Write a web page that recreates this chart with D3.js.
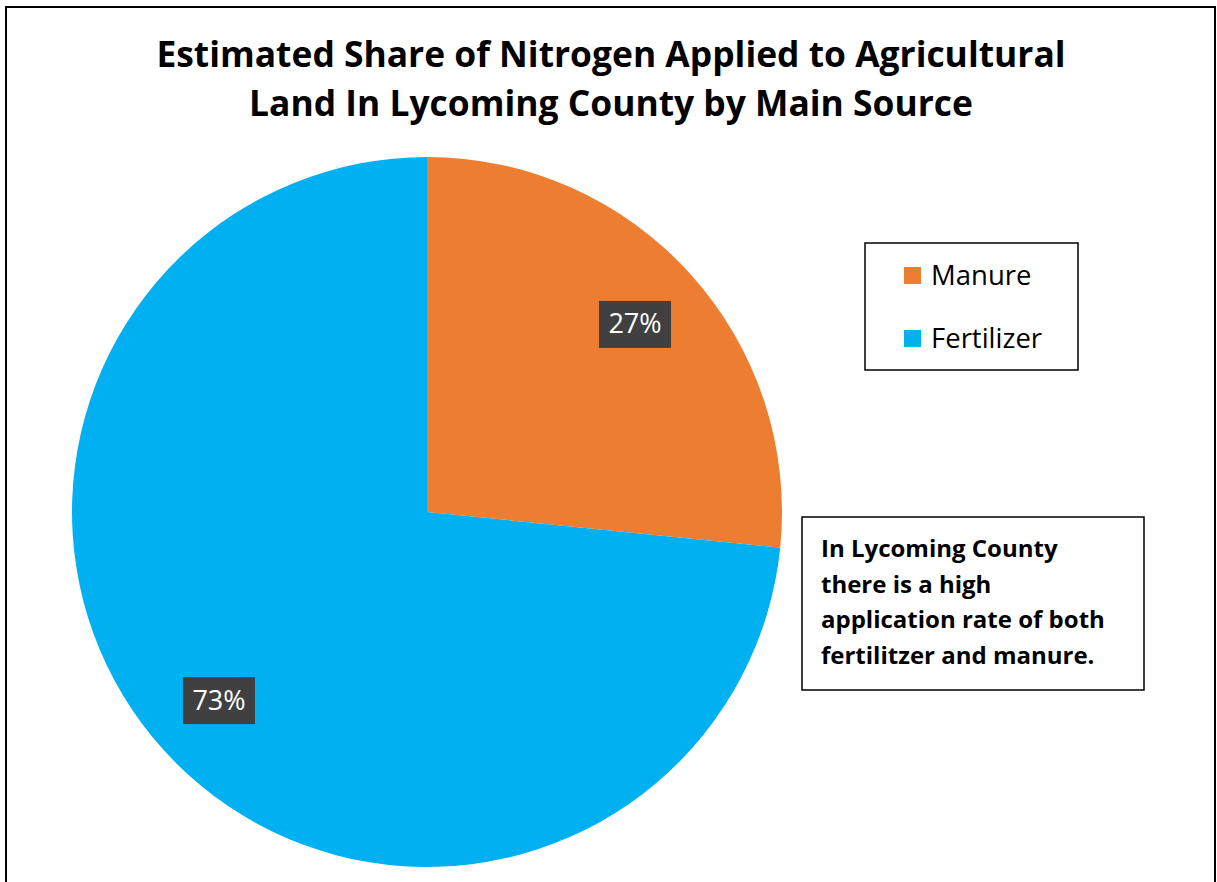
<!DOCTYPE html>
<meta charset="utf-8">
<style>
  body { margin: 0; background: #fff; }
  svg text { font-family: "Open Sans", sans-serif; }
  .title { font-size: 35.4px; font-weight: bold; fill: #000; }
  .legend-text { font-size: 27.5px; fill: #000; }
  .pct { font-size: 27px; fill: #fff; }
  .note { font-size: 24px; font-weight: bold; fill: #000; }
</style>
<svg width="1217" height="882"></svg>
<script src="https://cdn.jsdelivr.net/npm/d3@7"></script>
<script>
  // data
  var sources = ["Manure", "Fertilizer"];
  var shares = [26.6, 73.4];
  var labels = ["27%", "73%"];
  var colors = ["#ED7D31", "#00B0F0"];
  var titleLines = ["Estimated Share of Nitrogen Applied to Agricultural",
                    "Land In Lycoming County by Main Source"];
  var noteLines = ["In Lycoming County", "there is a high",
                   "application rate of both", "fertilitzer and manure."];

  var svg = d3.select("svg"),
      width = +svg.attr("width"),
      height = +svg.attr("height");

  // outer chart border (bottom runs off the page)
  svg.append("rect")
      .attr("x", 6).attr("y", 7)
      .attr("width", 1209).attr("height", 900)
      .attr("fill", "none")
      .attr("stroke", "#000")
      .attr("stroke-width", 2);

  svg.selectAll(".title")
    .data(titleLines)
    .enter().append("text")
      .attr("class", "title")
      .attr("x", 611)
      .attr("y", function(d, i) { return 67 + i * 49; })
      .attr("text-anchor", "middle")
      .text(function(d) { return d; });

  var cx = 427, cy = 512, radius = 355;

  var pie = d3.pie().sort(null).value(function(d) { return d; });
  var arc = d3.arc().innerRadius(0).outerRadius(radius);
  var labelArc = d3.arc().innerRadius(radius * 0.79).outerRadius(radius * 0.79);

  var g = svg.append("g").attr("transform", "translate(" + cx + "," + cy + ")");
  var arcs = pie(shares);

  g.selectAll("path")
    .data(arcs)
    .enter().append("path")
      .attr("d", arc)
      .attr("fill", function(d, i) { return colors[i]; });

  var lab = g.selectAll(".lab")
    .data(arcs)
    .enter().append("g")
      .attr("class", "lab")
      .attr("transform", function(d) { return "translate(" + labelArc.centroid(d) + ")"; });
  lab.append("rect")
      .attr("x", -36).attr("y", -23)
      .attr("width", 72).attr("height", 47)
      .attr("fill", "#404040");
  lab.append("text")
      .attr("class", "pct")
      .attr("text-anchor", "middle")
      .attr("dy", "0.35em")
      .text(function(d, i) { return labels[i]; });

  // legend
  var legend = svg.append("g");
  legend.append("rect")
      .attr("x", 865).attr("y", 243)
      .attr("width", 213).attr("height", 127)
      .attr("fill", "#fff").attr("stroke", "#000").attr("stroke-width", 1.5);
  var item = legend.selectAll(".item")
    .data(sources)
    .enter().append("g")
      .attr("class", "item")
      .attr("transform", function(d, i) { return "translate(904," + (267 + i * 63) + ")"; });
  item.append("rect")
      .attr("width", 17).attr("height", 17)
      .attr("fill", function(d, i) { return colors[i]; });
  item.append("text")
      .attr("class", "legend-text")
      .attr("x", 27).attr("y", 18)
      .text(function(d) { return d; });

  // text note
  svg.append("rect")
      .attr("x", 802).attr("y", 517)
      .attr("width", 342).attr("height", 173)
      .attr("fill", "#fff").attr("stroke", "#000").attr("stroke-width", 1.5);
  svg.selectAll(".note")
    .data(noteLines)
    .enter().append("text")
      .attr("class", "note")
      .attr("x", 821)
      .attr("y", function(d, i) { return 557 + i * 35.5; })
      .text(function(d) { return d; });
</script>
